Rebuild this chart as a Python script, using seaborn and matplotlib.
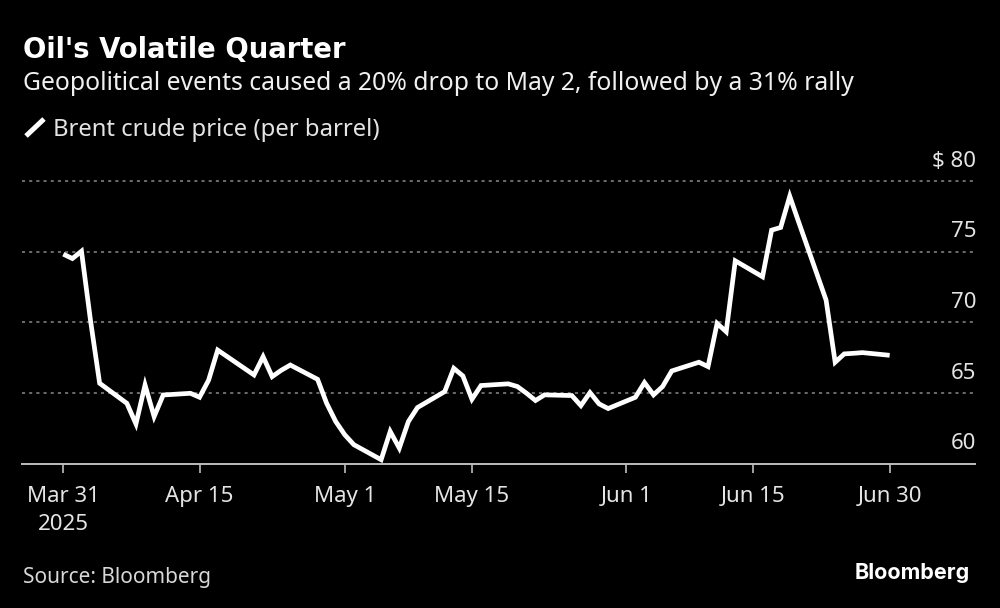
import pandas as pd
import matplotlib
matplotlib.use('Agg')
import matplotlib.pyplot as plt
import seaborn as sns
from matplotlib.lines import Line2D

# Brent values
dates = ['2025-03-31', '2025-04-01', '2025-04-02', '2025-04-03', '2025-04-04',
         '2025-04-07', '2025-04-08', '2025-04-09', '2025-04-10', '2025-04-11',
         '2025-04-14', '2025-04-15', '2025-04-16', '2025-04-17',
         '2025-04-21', '2025-04-22', '2025-04-23', '2025-04-24', '2025-04-25',
         '2025-04-28', '2025-04-29', '2025-04-30', '2025-05-01', '2025-05-02',
         '2025-05-05', '2025-05-06', '2025-05-07', '2025-05-08', '2025-05-09',
         '2025-05-12', '2025-05-13', '2025-05-14', '2025-05-15', '2025-05-16',
         '2025-05-19', '2025-05-20', '2025-05-21', '2025-05-22', '2025-05-23',
         '2025-05-26', '2025-05-27', '2025-05-28', '2025-05-29', '2025-05-30',
         '2025-06-02', '2025-06-03', '2025-06-04', '2025-06-05', '2025-06-06',
         '2025-06-09', '2025-06-10', '2025-06-11', '2025-06-12', '2025-06-13',
         '2025-06-16', '2025-06-17', '2025-06-18', '2025-06-19', '2025-06-20',
         '2025-06-23', '2025-06-24', '2025-06-25', '2025-06-26', '2025-06-27',
         '2025-06-30']
prices = [74.82, 74.51, 75.03, 70.1, 65.68,
          64.26, 62.8, 65.56, 63.32, 64.85,
          64.97, 64.69, 65.9, 68.03,
          66.27, 67.56, 66.15, 66.6, 66.97,
          65.96, 64.26, 62.97, 62.03, 61.33,
          60.27, 62.27, 61.09, 62.97, 63.96,
          65.09, 66.74, 66.2, 64.55, 65.52,
          65.64, 65.45, 64.98, 64.46, 64.86,
          64.81, 64.1, 65.02, 64.22, 63.89,
          64.69, 65.73, 64.86, 65.45, 66.55,
          67.17, 66.86, 69.92, 69.33, 74.35,
          73.22, 76.52, 76.71, 78.92, 77.06,
          71.57, 67.17, 67.76, 67.8, 67.85,
          67.66]
x_tick_dates = ['2025-03-31', '2025-04-15', '2025-05-01', '2025-05-15',
                '2025-06-01', '2025-06-15', '2025-06-30']
x_tick_labels = ['Mar 31\n2025', 'Apr 15', 'May 1', 'May 15', 'Jun 1', 'Jun 15', 'Jun 30']
y_ticks = [60, 65, 70, 75, 80]
y_tick_labels = ['60', '65', '70', '75', '$ 80']

df = pd.DataFrame({'date': pd.to_datetime(dates), 'price': prices})

sns.set_style('dark', {'axes.facecolor': 'black', 'figure.facecolor': 'black'})
plt.rcParams['font.family'] = ['Noto Sans', 'DejaVu Sans']

W, H = 1000, 608
text_col = '#e4e4e4'
fig = plt.figure(figsize=(W / 100, H / 100), dpi=100, facecolor='black')
ax = fig.add_axes([22 / W, 1 - 463.5 / H, (975 - 22) / W, (463.5 - 181) / H])

sns.lineplot(data=df, x='date', y='price', ax=ax, color='white', linewidth=3.4,
             solid_joinstyle='miter', solid_capstyle='butt', errorbar=None)

ax.set_xlim(pd.Timestamp('2025-03-31') - pd.Timedelta(days=4.55),
            pd.Timestamp('2025-03-31') + pd.Timedelta(days=100.4))
ax.set_ylim(60, 80)
ax.set_xlabel('')
ax.set_ylabel('')
ax.set_facecolor('black')

for side in ['top', 'left', 'right']:
    ax.spines[side].set_visible(False)
ax.spines['bottom'].set_color('#bdbdbd')
ax.spines['bottom'].set_linewidth(1.4)

ax.set_xticks(pd.to_datetime(x_tick_dates))
ax.set_xticklabels(x_tick_labels, fontsize=16, color=text_col, linespacing=1.4)
ax.tick_params(axis='x', length=6.5, width=1.2, color='#bdbdbd', pad=10, bottom=True)

# value labels sit on top of the gridlines at the right end
ax.set_yticks(y_ticks)
ax.set_yticklabels([])
ax.tick_params(axis='y', length=0)
for val, lab in zip(y_ticks, y_tick_labels):
    ax.annotate(lab, (1, val), xycoords=ax.get_yaxis_transform(), xytext=(1, 10.2),
                textcoords='offset points', ha='right', va='baseline',
                fontsize=16, color=text_col, annotation_clip=False)

ax.grid(False)
for val in y_ticks[1:]:
    ax.axhline(val, color='#8a8a8a', linewidth=1.1, linestyle=(0, (2.0, 2.7)), zorder=1,
               clip_on=False)


def put(x, y, s, **kw):
    fig.text(x / W, 1 - y / H, s, va='baseline', **kw)


put(23, 58, "Oil's Volatile Quarter", fontsize=19.8, fontweight='bold', color='white',
    family='DejaVu Sans')
put(23, 90, 'Geopolitical events caused a 20% drop to May 2, followed by a 31% rally',
    fontsize=17.8, color='#f0f0f0')
put(53, 136, 'Brent crude price (per barrel)', fontsize=17.2, color=text_col)
put(23, 583, 'Source: Bloomberg', fontsize=15, color='#d8d8d8')
put(855, 579, 'Bloomberg', fontsize=15.5, fontweight='bold', color='white', family='Inter')

# legend key is a short slanted stroke
fig.add_artist(Line2D([26 / W, 44 / W], [1 - 136 / H, 1 - 119 / H], color='white',
                      linewidth=3.6, solid_capstyle='butt', transform=fig.transFigure))

plt.savefig('out.png', dpi=100, facecolor='black')
plt.close()
